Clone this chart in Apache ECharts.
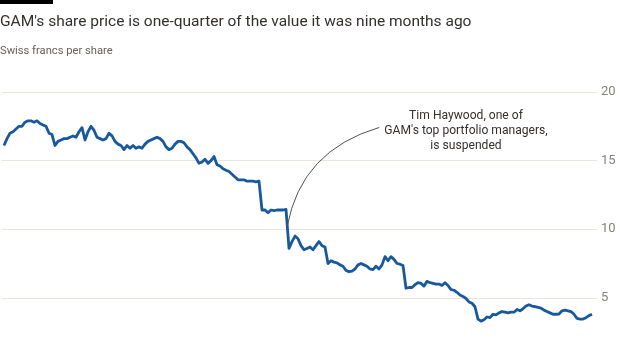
<!DOCTYPE html>
<html>
<head>
<meta charset="utf-8">
<script src="https://cdn.jsdelivr.net/npm/echarts@6/dist/echarts.min.js"></script>
<style>
html,body{margin:0;padding:0;background:#fff;}
#c{width:620px;height:349px;}
</style>
</head>
<body>
<div id="c"></div>
<script>
// Share price, Swiss francs per share (evenly spaced samples, oldest first)
const prices = [
16.1,16.6,17.0,17.1,17.3,17.5,17.5,17.8,17.9,17.9,17.8,17.9,17.7,17.6,17.5,17.0,16.9,16.1,16.4,16.5,
16.6,16.6,16.7,16.8,16.7,17.1,17.4,16.5,17.1,17.5,17.2,16.7,16.6,16.5,16.6,17.0,16.8,16.4,16.2,16.1,
15.8,16.1,15.9,16.1,15.9,16.0,15.9,16.2,16.4,16.5,16.6,16.7,16.6,16.4,16.0,15.8,15.9,16.2,16.4,16.4,
16.3,16.0,15.8,15.5,15.2,14.8,14.9,15.1,14.8,15.0,15.3,14.7,14.6,14.4,14.3,14.2,14.0,13.8,13.6,13.6,
13.6,13.5,13.5,13.5,13.45,13.5,11.4,11.4,11.2,11.4,11.35,11.4,11.4,11.4,11.45,8.6,9.1,9.5,9.3,8.8,
8.5,8.6,8.7,8.5,8.8,9.1,8.8,8.7,7.5,7.7,7.6,7.55,7.4,7.3,7.0,6.9,6.95,7.1,7.4,7.5,
7.4,7.3,7.1,7.05,7.3,7.1,7.4,8.0,7.7,8.0,7.8,7.5,7.45,7.35,5.7,5.75,5.75,5.95,6.1,6.05,
5.85,6.2,6.1,6.05,6.0,6.0,5.9,6.1,5.9,5.6,5.55,5.4,5.2,5.1,4.95,4.7,4.6,4.35,3.45,3.3,
3.4,3.6,3.55,3.8,3.75,3.9,4.0,3.95,3.9,3.95,3.95,4.15,4.05,4.2,4.4,4.5,4.4,4.35,4.3,4.25,
4.1,4.0,3.9,3.8,3.8,3.82,4.05,4.1,4.05,4.0,3.8,3.5,3.45,3.45,3.55,3.7,3.8
];
const yTicks = [0, 5, 10, 15, 20];
const titleText = "GAM's share price is one-quarter of the value it was nine months ago";
const subtitleText = "Swiss francs per share";
const noteLines = ["Tim Haywood, one of", "GAM's top portfolio managers,", "is suspended"];
// annotation anchor: mid-way down the drop after the suspension (sample index, price)
const noteAnchor = [94.4, 10.2];

const FAMILY = "Roboto, 'Noto Sans', sans-serif";
const ctx = document.createElement('canvas').getContext('2d');
function fitSize(text, width, maxSize) {
  ctx.font = "100px " + FAMILY;
  const w = ctx.measureText(text).width;
  return Math.min(maxSize, Math.round(100 * width / w * 10) / 10);
}
const titleSize = fitSize(titleText, 470, 20);
const subSize = fitSize(subtitleText, 113, 15);
const noteSize = fitSize(noteLines[1], 164, 14);

const chart = echarts.init(document.getElementById('c'), null, {renderer: 'canvas'});
const n = prices.length;

function graphics(extra) {
  return [
    {type: 'rect', left: 0, top: 0, shape: {width: 53, height: 4}, style: {fill: '#000'}},
    {type: 'text', x: 0, y: 22, style: {text: titleText, fill: '#33302e', font: titleSize + "px " + FAMILY, verticalAlign: 'middle'}},
    {type: 'text', x: 0, y: 51, style: {text: subtitleText, fill: '#66605c', font: subSize + "px " + FAMILY, verticalAlign: 'middle'}}
  ].concat(extra || []);
}

chart.setOption({
  animation: false,
  backgroundColor: '#ffffff',
  grid: {left: 2, right: 23, top: 92, height: 274.4, containLabel: false, outerBoundsMode: 'none'},
  xAxis: {
    type: 'value', min: -0.67, max: n - 1 + 1.67,
    show: false
  },
  yAxis: {
    type: 'value', position: 'right', min: yTicks[0], max: yTicks[yTicks.length-1], interval: 5,
    axisLine: {show: false}, axisTick: {show: false},
    splitLine: {lineStyle: {color: '#ece3da', width: 1}},
    axisLabel: {color: '#86817c', fontSize: 13, fontFamily: FAMILY, margin: 4, align: 'left', showMinLabel: false}
  },
  series: [{
    type: 'line',
    data: prices.map((v, i) => [i, v]),
    showSymbol: false,
    lineStyle: {color: '#17599c', width: 2.8, join: 'round'},
    clip: false
  }],
  graphic: graphics()
});

// annotation connector and text, anchored to the data point
const p0 = chart.convertToPixel({gridIndex: 0}, noteAnchor);
const p2 = [p0[0] + 92, p0[1] - 99];
const cp = [p0[0] + 14, p0[1] - 76];
chart.setOption({
  graphic: graphics([
    {type: 'bezierCurve', shape: {x1: p0[0], y1: p0[1], x2: p2[0], y2: p2[1], cpx1: cp[0], cpy1: cp[1]},
     style: {stroke: '#55504c', lineWidth: 1, fill: null}, z: 10},
    {type: 'text', x: 466, y: 108, style: {text: noteLines.join('\n'), fill: '#33302e', font: noteSize + "px " + FAMILY,
      align: 'center', verticalAlign: 'top', lineHeight: 15}, z: 10}
  ])
});
</script>
</body>
</html>
